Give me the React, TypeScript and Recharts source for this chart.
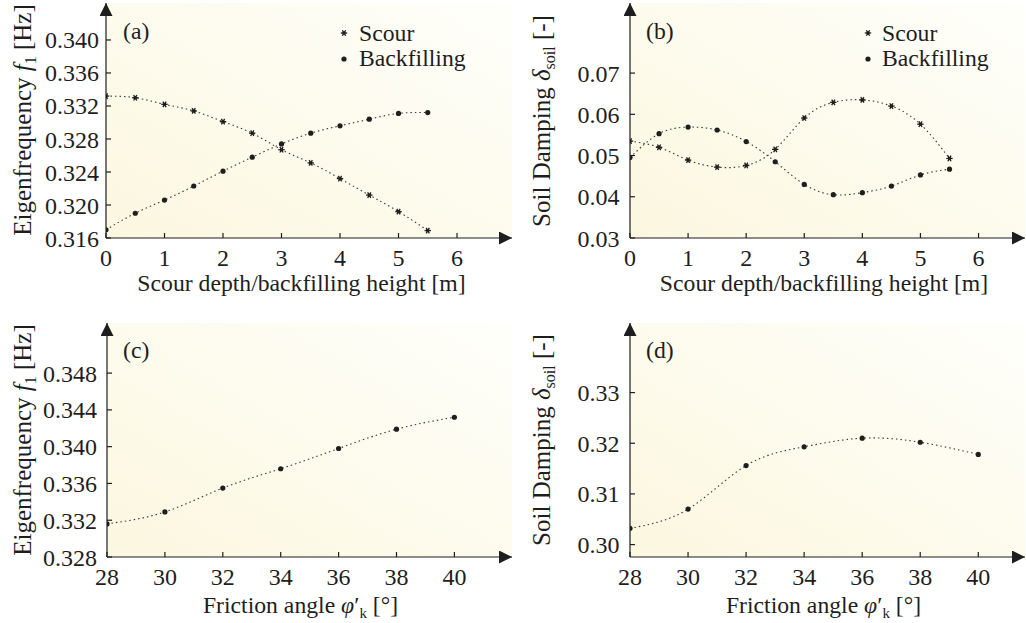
import React from 'react';
import { LineChart, Line, XAxis, YAxis, CartesianGrid } from 'recharts';

// ---- data ----
const depthSteps = [0, 0.5, 1, 1.5, 2, 2.5, 3, 3.5, 4, 4.5, 5, 5.5];
const freqScour = [0.3332, 0.333, 0.3322, 0.3314, 0.3301, 0.3287, 0.3267, 0.3251, 0.3232, 0.3212, 0.3192, 0.3169];
const freqBackfill = [0.317, 0.319, 0.3206, 0.3223, 0.3241, 0.3258, 0.3274, 0.3287, 0.3296, 0.3304, 0.3311, 0.3312];
const dampScour = [0.0535, 0.052, 0.0489, 0.0472, 0.0476, 0.0515, 0.0591, 0.0629, 0.0635, 0.062, 0.0576, 0.0493];
const dampBackfill = [0.0495, 0.0553, 0.0569, 0.0562, 0.0534, 0.0485, 0.043, 0.0405, 0.041, 0.0426, 0.0453, 0.0467];
const frictionAngles = [28, 30, 32, 34, 36, 38, 40];
const freqFriction = [0.3316, 0.3329, 0.3355, 0.3376, 0.3398, 0.3419, 0.3432];
const dampFriction = [0.3032, 0.307, 0.3156, 0.3193, 0.321, 0.3202, 0.3178];

const depthTicks = [0, 1, 2, 3, 4, 5, 6];
const angleTicks = [28, 30, 32, 34, 36, 38, 40];
const freqTicksA = [0.316, 0.32, 0.324, 0.328, 0.332, 0.336, 0.34];
const dampTicksB = [0.03, 0.04, 0.05, 0.06, 0.07];
const freqTicksC = [0.328, 0.332, 0.336, 0.34, 0.344, 0.348];
const dampTicksD = [0.3, 0.31, 0.32, 0.33];

const dataA = depthSteps.map((x, i) => ({ x, scour: freqScour[i], backfill: freqBackfill[i] }));
const dataB = depthSteps.map((x, i) => ({ x, scour: dampScour[i], backfill: dampBackfill[i] }));
const dataC = frictionAngles.map((x, i) => ({ x, v: freqFriction[i] }));
const dataD = frictionAngles.map((x, i) => ({ x, v: dampFriction[i] }));

const FONT = 'Liberation Serif';
const INK = '#1e1e1e';

const Star = ({ cx, cy }: { cx: number; cy: number }) => {
  const r = 3.2;
  const segs = [0, 60, 120].map((a) => {
    const rad = (a * Math.PI) / 180;
    return { dx: r * Math.cos(rad), dy: r * Math.sin(rad) };
  });
  return (
    <g>
      {segs.map((s, i) => (
        <line key={i} x1={cx - s.dx} y1={cy - s.dy} x2={cx + s.dx} y2={cy + s.dy} stroke={INK} strokeWidth={1.3} />
      ))}
      <circle cx={cx} cy={cy} r={1.7} fill={INK} />
    </g>
  );
};
const Dot = ({ cx, cy }: { cx: number; cy: number }) => <circle cx={cx} cy={cy} r={2.6} fill={INK} />;

const renderDot = (kind: 'star' | 'dot', id: string) => (p: any) => {
  if (p.cx == null || p.cy == null) return <g key={`${id}-${p.index}`} />;
  return (
    <g key={`${id}-${p.index}`}>
      {kind === 'star' ? <Star cx={p.cx} cy={p.cy} /> : <Dot cx={p.cx} cy={p.cy} />}
    </g>
  );
};

type Series = { key: string; kind: 'star' | 'dot' };

type PanelProps = {
  id: string;
  left: number;
  top: number;
  width: number;
  height: number;
  margin: { top: number; right: number; bottom: number; left: number };
  data: any[];
  series: Series[];
  xDomain: [number, number];
  xTicks: number[];
  yDomain: [number, number];
  yTicks: number[];
  yDecimals: number;
  yTickMargin: number;
};

const tickStyle = { fill: INK, fontSize: 24, fontFamily: FONT, style: { fontFamily: FONT } };

const Panel = (p: PanelProps) => (
  <div style={{ position: 'absolute', left: p.left, top: p.top }}>
    <LineChart width={p.width} height={p.height} data={p.data} margin={p.margin}>
      <defs>
        <linearGradient id={`bg-${p.id}`} x1="0" y1="1" x2="1" y2="0">
          <stop offset="0%" stopColor="#fbf7df" />
          <stop offset="100%" stopColor="#fffffb" />
        </linearGradient>
        <marker id={`arr-${p.id}`} markerUnits="userSpaceOnUse" markerWidth={14} markerHeight={13} refX={13} refY={6.5} orient="auto-start-reverse">
          <path d="M0,0 L13,6.5 L0,13 z" fill={INK} />
        </marker>
      </defs>
      <CartesianGrid horizontal={false} vertical={false} fill={`url(#bg-${p.id})`} stroke="none" />
      <XAxis
        type="number"
        dataKey="x"
        domain={p.xDomain}
        ticks={p.xTicks}
        interval={0}
        allowDataOverflow
        height={30}
        tickSize={-5}
        tickMargin={16}
        axisLine={{ stroke: INK, strokeWidth: 1.2, markerEnd: `url(#arr-${p.id})` } as any}
        tickLine={{ stroke: INK, strokeWidth: 1.2 }}
        tick={tickStyle as any}
      />
      <YAxis
        type="number"
        domain={p.yDomain}
        ticks={p.yTicks}
        interval={0}
        allowDataOverflow
        width={60}
        tickSize={-5}
        tickMargin={p.yTickMargin}
        tickFormatter={(v: number) => v.toFixed(p.yDecimals)}
        axisLine={{ stroke: INK, strokeWidth: 1.2, markerStart: `url(#arr-${p.id})` } as any}
        tickLine={{ stroke: INK, strokeWidth: 1.2 }}
        tick={tickStyle as any}
      />
      {p.series.map((s) => (
        <Line
          key={s.key}
          type="natural"
          dataKey={s.key}
          stroke="#3a3a3a"
          strokeWidth={1.1}
          strokeDasharray="1.5 3"
          dot={renderDot(s.kind, `${p.id}-${s.key}`)}
          activeDot={false}
          isAnimationActive={false}
        />
      ))}
    </LineChart>
  </div>
);

const txt = { fontSize: 23.7, fill: INK, style: { fontFamily: FONT } } as const;
const ytxt = { fontSize: 25, fill: INK, style: { fontFamily: FONT } } as const;

export default function App() {
  return (
    <div style={{ position: 'absolute', left: 0, top: 0, width: 1026, height: 623, background: '#ffffff', overflow: 'hidden', fontFamily: FONT }}>
      <Panel
        id="a"
        left={0}
        top={0}
        width={513}
        height={300}
        margin={{ top: 3, right: 1, bottom: 32, left: 46 }}
        data={dataA}
        series={[
          { key: 'scour', kind: 'star' },
          { key: 'backfill', kind: 'dot' },
        ]}
        xDomain={[0, 6.94]}
        xTicks={depthTicks}
        yDomain={[0.316, 0.34448]}
        yTicks={freqTicksA}
        yDecimals={3}
        yTickMargin={12}
      />
      <Panel
        id="b"
        left={513}
        top={0}
        width={513}
        height={300}
        margin={{ top: 3, right: 1, bottom: 32, left: 57 }}
        data={dataB}
        series={[
          { key: 'scour', kind: 'star' },
          { key: 'backfill', kind: 'dot' },
        ]}
        xDomain={[0, 6.8]}
        xTicks={depthTicks}
        yDomain={[0.03, 0.087]}
        yTicks={dampTicksB}
        yDecimals={2}
        yTickMargin={15.5}
      />
      <Panel
        id="c"
        left={0}
        top={300}
        width={513}
        height={323}
        margin={{ top: 23, right: 1, bottom: 36, left: 47 }}
        data={dataC}
        series={[{ key: 'v', kind: 'dot' }]}
        xDomain={[28, 41.99]}
        xTicks={angleTicks}
        yDomain={[0.328, 0.35345]}
        yTicks={freqTicksC}
        yDecimals={3}
        yTickMargin={15}
      />
      <Panel
        id="d"
        left={513}
        top={300}
        width={513}
        height={323}
        margin={{ top: 23, right: 1, bottom: 36, left: 57 }}
        data={dataD}
        series={[{ key: 'v', kind: 'dot' }]}
        xDomain={[28, 41.61]}
        xTicks={angleTicks}
        yDomain={[0.29755, 0.34373]}
        yTicks={dampTicksD}
        yDecimals={2}
        yTickMargin={15.5}
      />
      <svg width={1026} height={623} style={{ position: 'absolute', left: 0, top: 0, pointerEvents: 'none', fontFamily: FONT }}>
        {/* panel letters */}
        <text x={123} y={39} {...txt}>(a)</text>
        <text x={646} y={39} {...txt}>(b)</text>
        <text x={123} y={358} {...txt}>(c)</text>
        <text x={646} y={358} {...txt}>(d)</text>
        {/* legends */}
        <Star cx={344} cy={33} />
        <text x={359} y={41} {...txt}>Scour</text>
        <Dot cx={344} cy={59} />
        <text x={359} y={66} {...txt}>Backfilling</text>
        <Star cx={868} cy={33} />
        <text x={882} y={41} {...txt}>Scour</text>
        <Dot cx={868} cy={59} />
        <text x={882} y={66} {...txt}>Backfilling</text>
        {/* x titles */}
        <text x={301.5} y={291} textAnchor="middle" {...txt}>Scour depth/backfilling height [m]</text>
        <text x={824} y={291} textAnchor="middle" {...txt}>Scour depth/backfilling height [m]</text>
        <text x={300.5} y={613} textAnchor="middle" {...txt}>
          Friction angle <tspan fontStyle="italic">φ</tspan>
          <tspan>′</tspan>
          <tspan fontSize={15} dy={5}>k</tspan>
          <tspan dy={-5}> [°]</tspan>
        </text>
        <text x={823.5} y={613} textAnchor="middle" {...txt}>
          Friction angle <tspan fontStyle="italic">φ</tspan>
          <tspan>′</tspan>
          <tspan fontSize={15} dy={5}>k</tspan>
          <tspan dy={-5}> [°]</tspan>
        </text>
        {/* y titles */}
        <text transform="translate(31,120) rotate(-90)" textAnchor="middle" {...ytxt}>
          Eigenfrequency <tspan fontStyle="italic">f</tspan>
          <tspan fontSize={16} dy={5}>1</tspan>
          <tspan dy={-5}> [Hz]</tspan>
        </text>
        <text transform="translate(550,121) rotate(-90)" textAnchor="middle" {...ytxt}>
          Soil Damping <tspan fontStyle="italic">δ</tspan>
          <tspan fontSize={16} dy={5}>soil</tspan>
          <tspan dy={-5}> [-]</tspan>
        </text>
        <text transform="translate(31,440) rotate(-90)" textAnchor="middle" {...ytxt}>
          Eigenfrequency <tspan fontStyle="italic">f</tspan>
          <tspan fontSize={16} dy={5}>1</tspan>
          <tspan dy={-5}> [Hz]</tspan>
        </text>
        <text transform="translate(550,440) rotate(-90)" textAnchor="middle" {...ytxt}>
          Soil Damping <tspan fontStyle="italic">δ</tspan>
          <tspan fontSize={16} dy={5}>soil</tspan>
          <tspan dy={-5}> [-]</tspan>
        </text>
      </svg>
    </div>
  );
}
